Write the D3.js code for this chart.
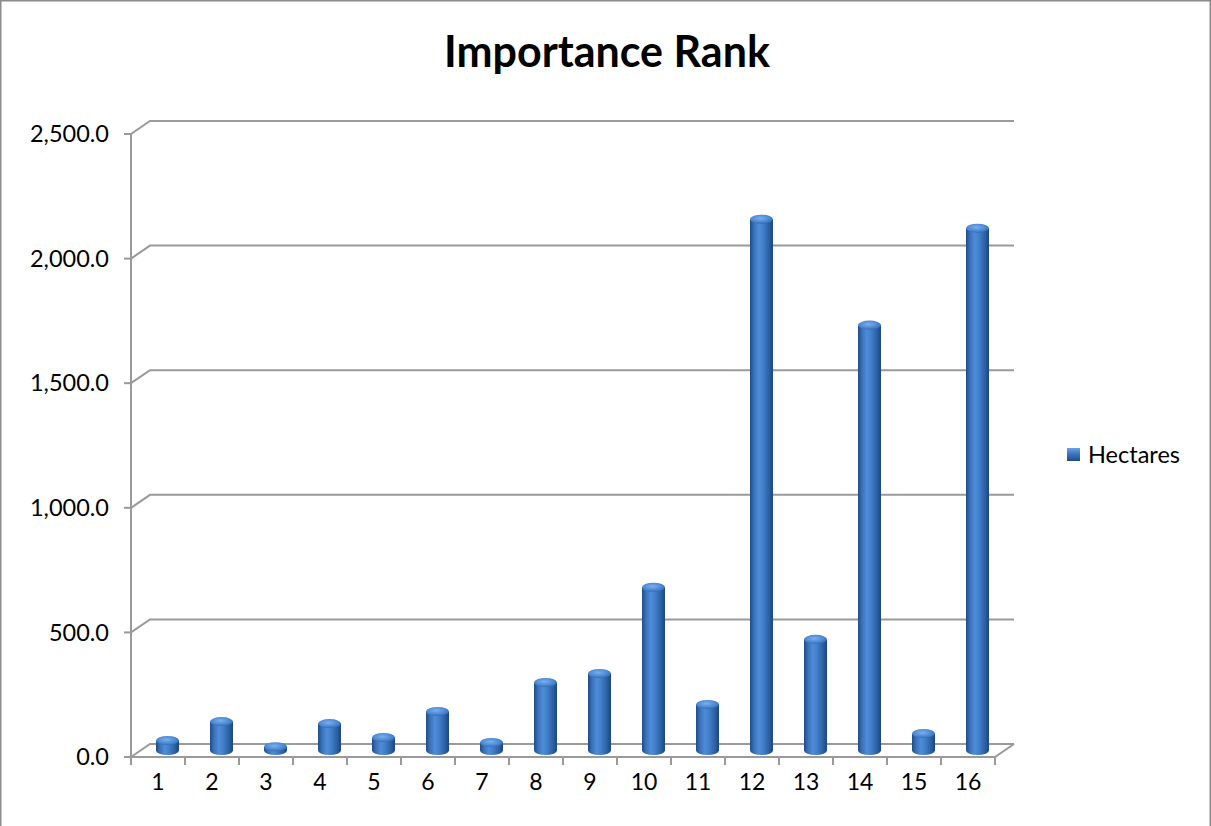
<!DOCTYPE html>
<html>
<head>
<meta charset="utf-8">
<script src="https://cdn.jsdelivr.net/npm/d3@7"></script>
<style>
  html, body { margin: 0; padding: 0; background: #fff; }
  svg { display: block; }
</style>
</head>
<body>
<svg id="chart" width="1211" height="826"></svg>
<script>
// Chart data
const categories = ["1","2","3","4","5","6","7","8","9","10","11","12","13","14","15","16"];
const hectares = [40, 116, 15, 108, 52, 157, 32, 273, 309, 655, 185, 2132, 446, 1707, 68, 2096];
const yTicks = [0, 500, 1000, 1500, 2000, 2500];
const seriesName = "Hectares";
const titleText = "Importance Rank";

(function () {
const svg = d3.select("#chart");
const W = 1211, H = 826;

// outer frame
svg.append("rect").attr("x", 0.75).attr("y", 0.75).attr("width", W - 1.5).attr("height", H)
  .attr("fill", "#fff").attr("stroke", "#8c8c8c").attr("stroke-width", 1.5);

// front plane geometry and depth offset of the pseudo-3D box
const plotLeft = 131, plotRight = 995, plotBottom = 757, plotTop = 134;
const depthX = 19, depthY = -13;

const x = d3.scaleBand().domain(categories).range([plotLeft, plotRight]).paddingInner(0).paddingOuter(0);
const y = d3.scaleLinear().domain([0, 2500]).range([plotBottom, plotTop]);

const defs = svg.append("defs");
const body = defs.append("linearGradient").attr("id", "cylBody").attr("x1", 0).attr("x2", 1).attr("y1", 0).attr("y2", 0);
[["0%", "#1f4c86"], ["18%", "#3a72bb"], ["38%", "#4f8bd6"], ["55%", "#4381cc"], ["80%", "#2e63a8"], ["100%", "#1c467f"]]
  .forEach(([o, c]) => body.append("stop").attr("offset", o).attr("stop-color", c));
const cap = defs.append("radialGradient").attr("id", "cylCap").attr("cx", "45%").attr("cy", "40%").attr("r", "65%");
[["0%", "#79b0ee"], ["60%", "#4d89d4"], ["100%", "#2f66ae"]]
  .forEach(([o, c]) => cap.append("stop").attr("offset", o).attr("stop-color", c));
const legendGrad = defs.append("linearGradient").attr("id", "legGrad").attr("x1", 0).attr("x2", 0).attr("y1", 0).attr("y2", 1);
[["0%", "#6aa2e4"], ["50%", "#3a72bb"], ["100%", "#1f4c86"]]
  .forEach(([o, c]) => legendGrad.append("stop").attr("offset", o).attr("stop-color", c));

const gridColor = "#9a9a9a";
const grid = svg.append("g").attr("fill", "none").attr("stroke", gridColor).attr("stroke-width", 2);

// gridlines: side-wall diagonal then along the back wall
yTicks.forEach(t => {
  const yf = y(t);
  grid.append("path").attr("d",
    `M${plotLeft},${yf} L${plotLeft + depthX},${yf + depthY} L${plotRight + depthX},${yf + depthY}`);
});

// floor outline
grid.append("path").attr("d",
  `M${plotLeft},${plotBottom} L${plotRight},${plotBottom} L${plotRight + depthX},${plotBottom + depthY}`);

// value axis line and ticks
grid.append("line").attr("x1", plotLeft).attr("x2", plotLeft).attr("y1", plotTop).attr("y2", plotBottom);
yTicks.forEach(t => {
  grid.append("line").attr("x1", plotLeft - 7).attr("x2", plotLeft).attr("y1", y(t)).attr("y2", y(t));
});
// category ticks
const bounds = categories.map(c => x(c)).concat([plotRight]);
bounds.forEach(bx => {
  grid.append("line").attr("x1", bx).attr("x2", bx).attr("y1", plotBottom).attr("y2", plotBottom + 8);
});

const font = "Lato, 'Open Sans', sans-serif";
// value axis labels
svg.append("g").selectAll("text").data(yTicks).join("text")
  .attr("x", 109).attr("y", d => y(d)).attr("dy", "0.35em")
  .attr("text-anchor", "end").attr("font-family", font).attr("font-size", 23.5).attr("fill", "#000")
  .text(d => d3.format(",.1f")(d));

// category labels
svg.append("g").selectAll("text").data(categories).join("text")
  .attr("x", d => x(d) + x.bandwidth() / 2).attr("y", 790)
  .attr("text-anchor", "middle").attr("font-family", font).attr("font-size", 23).attr("fill", "#000")
  .text(d => d);

// cylinders, centred halfway into the depth
const bw = 23, ry = 4.5;
const bars = svg.append("g").selectAll("g").data(categories.map((c, i) => ({ c, v: hectares[i] }))).join("g");
bars.each(function (d) {
  const g = d3.select(this);
  const cx = x(d.c) + x.bandwidth() / 2 + depthX / 2;
  const yb = y(0) + depthY / 2;
  const yt = y(d.v) + depthY / 2;
  g.append("ellipse").attr("cx", cx).attr("cy", yb).attr("rx", bw / 2).attr("ry", ry).attr("fill", "url(#cylBody)");
  g.append("rect").attr("x", cx - bw / 2).attr("y", yt).attr("width", bw).attr("height", Math.max(0, yb - yt))
    .attr("fill", "url(#cylBody)");
  g.append("ellipse").attr("cx", cx).attr("cy", yt).attr("rx", bw / 2).attr("ry", ry).attr("fill", "url(#cylCap)");
});

// title
svg.append("text").attr("x", 607).attr("y", 67).attr("text-anchor", "middle")
  .attr("font-family", font).attr("font-weight", "bold").attr("font-size", 43).attr("fill", "#000")
  .text(titleText);

// legend
const leg = svg.append("g").attr("transform", "translate(1067,448)");
leg.append("rect").attr("width", 13).attr("height", 13).attr("fill", "url(#legGrad)");
leg.append("text").attr("x", 21).attr("y", 7).attr("dy", "0.35em")
  .attr("font-family", font).attr("font-size", 23.5).attr("fill", "#000").text(seriesName);
})();
</script>
</body>
</html>
